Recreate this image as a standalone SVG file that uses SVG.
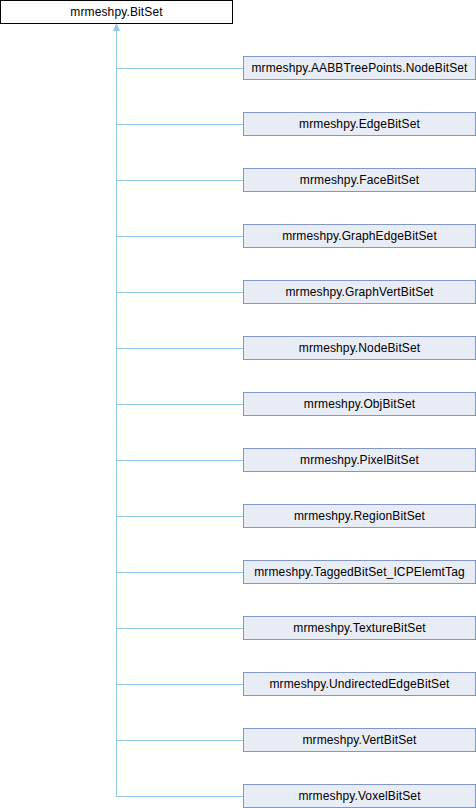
<svg xmlns="http://www.w3.org/2000/svg" width="476" height="808" viewBox="0 0 476 808">
<defs>
<style>
.n rect{fill:#E8ECF5;stroke:#8397C7;stroke-width:1}
.r rect{fill:#FFFFFF;stroke:#000000;stroke-width:1}
text{font-family:"Liberation Sans",Arial,sans-serif;font-size:12px;letter-spacing:0.12px;fill:#000;text-anchor:middle}
.e{stroke:#8FC8EA;stroke-width:1;fill:none}
</style>
<marker id="ah" markerWidth="8" markerHeight="8" refX="7" refY="4" orient="auto" markerUnits="userSpaceOnUse">
<path d="M0,1 L7,4 L0,7 Z" fill="#8FC8EA" stroke="#8FC8EA"/>
</marker>
</defs>
<rect width="476" height="808" fill="#fff"/>
<g id="connectors">
<path class="e" d="M116.5,796.5 V24" marker-end="url(#ah)"/>
<path class="e" d="M116.5,68.5H243M116.5,124.5H243M116.5,180.5H243M116.5,236.5H243M116.5,292.5H243M116.5,348.5H243M116.5,404.5H243M116.5,460.5H243M116.5,516.5H243M116.5,572.5H243M116.5,628.5H243M116.5,684.5H243M116.5,740.5H243M116.5,796.5H243"/>
</g>
<g id="root" class="r"><rect x="0.5" y="0.5" width="232" height="23"/><text x="116.5" y="16">mrmeshpy.BitSet</text></g>
<g id="n1" class="n"><rect x="243.5" y="56.5" width="232" height="23"/><text x="359.5" y="72">mrmeshpy.AABBTreePoints.NodeBitSet</text></g>
<g id="n2" class="n"><rect x="243.5" y="112.5" width="232" height="23"/><text x="359.5" y="128">mrmeshpy.EdgeBitSet</text></g>
<g id="n3" class="n"><rect x="243.5" y="168.5" width="232" height="23"/><text x="359.5" y="184">mrmeshpy.FaceBitSet</text></g>
<g id="n4" class="n"><rect x="243.5" y="224.5" width="232" height="23"/><text x="359.5" y="240">mrmeshpy.GraphEdgeBitSet</text></g>
<g id="n5" class="n"><rect x="243.5" y="280.5" width="232" height="23"/><text x="359.5" y="296">mrmeshpy.GraphVertBitSet</text></g>
<g id="n6" class="n"><rect x="243.5" y="336.5" width="232" height="23"/><text x="359.5" y="352">mrmeshpy.NodeBitSet</text></g>
<g id="n7" class="n"><rect x="243.5" y="392.5" width="232" height="23"/><text x="359.5" y="408">mrmeshpy.ObjBitSet</text></g>
<g id="n8" class="n"><rect x="243.5" y="448.5" width="232" height="23"/><text x="359.5" y="464">mrmeshpy.PixelBitSet</text></g>
<g id="n9" class="n"><rect x="243.5" y="504.5" width="232" height="23"/><text x="359.5" y="520">mrmeshpy.RegionBitSet</text></g>
<g id="n10" class="n"><rect x="243.5" y="560.5" width="232" height="23"/><text x="359.5" y="576">mrmeshpy.TaggedBitSet_ICPElemtTag</text></g>
<g id="n11" class="n"><rect x="243.5" y="616.5" width="232" height="23"/><text x="359.5" y="632">mrmeshpy.TextureBitSet</text></g>
<g id="n12" class="n"><rect x="243.5" y="672.5" width="232" height="23"/><text x="359.5" y="688">mrmeshpy.UndirectedEdgeBitSet</text></g>
<g id="n13" class="n"><rect x="243.5" y="728.5" width="232" height="23"/><text x="359.5" y="744">mrmeshpy.VertBitSet</text></g>
<g id="n14" class="n"><rect x="243.5" y="784.5" width="232" height="23"/><text x="359.5" y="800">mrmeshpy.VoxelBitSet</text></g>
</svg>
